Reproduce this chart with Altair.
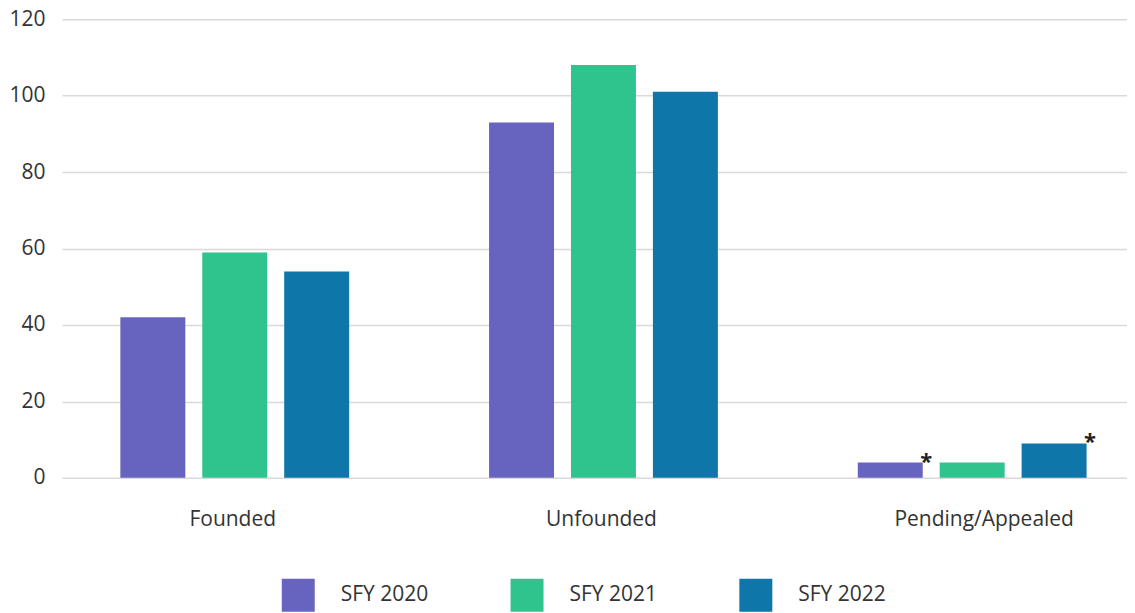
import altair as alt
import pandas as pd

categories = ["Founded", "Unfounded", "Pending/Appealed"]
series = ["SFY 2020", "SFY 2021", "SFY 2022"]
sfy2020 = [42, 93, 4]
sfy2021 = [59, 108, 4]
sfy2022 = [54, 101, 9]
notes2020 = ["", "", "*"]
notes2021 = ["", "", ""]
notes2022 = ["", "", "*"]
colors = ["#6764C0", "#2FC48D", "#0E76A8"]
y_ticks = [0, 20, 40, 60, 80, 100, 120]

rows = []
for s, vals, notes in zip(series, [sfy2020, sfy2021, sfy2022], [notes2020, notes2021, notes2022]):
    for c, v, n in zip(categories, vals, notes):
        rows.append({"category": c, "series": s, "value": v, "note": n})
df = pd.DataFrame(rows)

FONT = "Open Sans"

x_enc = alt.X(
    "category:N",
    sort=categories,
    title=None,
    scale=alt.Scale(paddingInner=0.3794, paddingOuter=0.134, align=0.591),
    axis=alt.Axis(
        labelAngle=0, domain=False, ticks=False, labelPadding=31,
        labelFontSize=21, labelFont=FONT, labelColor="#333333",
        labelOffset={
            "condition": {"test": "datum.value == 'Pending/Appealed'", "value": 12},
            "value": -2,
        },
    ),
)
xoff_enc = alt.XOffset("series:N", sort=series,
                       scale=alt.Scale(paddingInner=0.207, paddingOuter=0))
y_enc = alt.Y(
    "value:Q",
    title=None,
    scale=alt.Scale(domain=[0, 120], nice=False),
    axis=alt.Axis(values=y_ticks, domain=False, ticks=False, labelPadding=17,
                  labelFontSize=21, labelFont=FONT, labelColor="#333333",
                  gridColor="#d9d9d9", gridWidth=1.5),
)

bars = alt.Chart(df).mark_bar().encode(
    x=x_enc,
    xOffset=xoff_enc,
    y=y_enc,
    color=alt.Color(
        "series:N",
        sort=series,
        scale=alt.Scale(domain=series, range=colors),
        legend=alt.Legend(
            title=None, orient="none", direction="horizontal", columns=3,
            legendX=220, legendY=560, symbolType="square", symbolSize=1089,
            symbolStrokeWidth=0, labelFontSize=21, labelFont=FONT,
            labelColor="#333333", labelOffset=26, columnPadding=82, padding=0,
        ),
    ),
)

stars = alt.Chart(df).transform_filter("datum.note != ''").mark_text(
    fontSize=22, font=FONT, fontWeight="bold", color="#222222",
    align="center", baseline="middle", dx=36, dy=-1,
).encode(
    x=alt.X("category:N", sort=categories),
    xOffset=alt.XOffset("series:N", sort=series),
    y=alt.Y("value:Q"),
    text="note:N",
)

chart = alt.layer(bars, stars).properties(
    width=1066, height=459,
    padding={"left": 0, "top": 0, "right": 0, "bottom": 0},
).configure_view(stroke=None)

chart.save("out.html", embed_options={"renderer": "svg", "actions": False})
